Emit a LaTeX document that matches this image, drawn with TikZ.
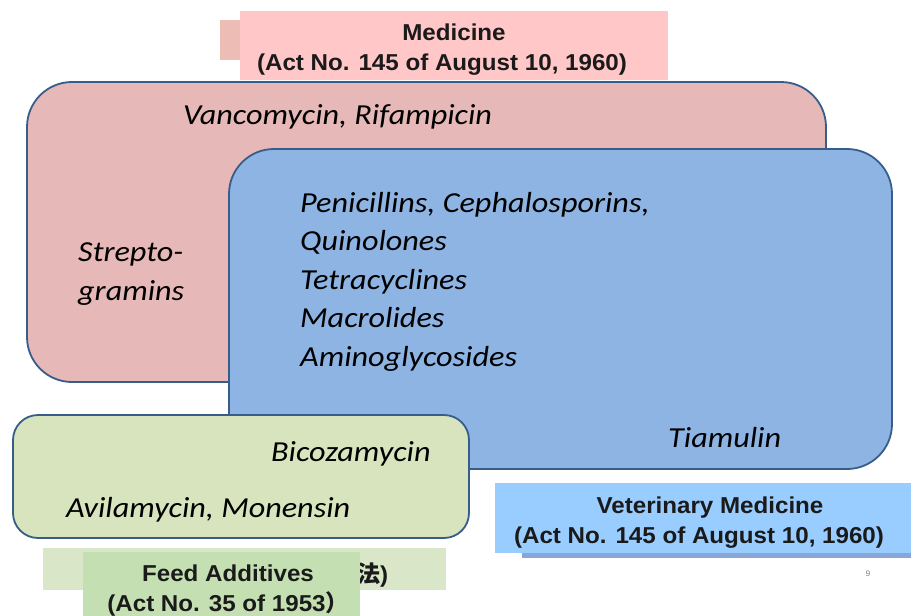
\documentclass[tikz,border=0pt]{standalone}
\usepackage{fontspec}
\setmainfont{Liberation Sans}[FakeStretch=1.05]
\newfontfamily\bodyfont{Carlito}[FakeStretch=1.11]
\newfontfamily\cjkfont{Noto Sans CJK JP}
\usetikzlibrary{shapes,calc}

\definecolor{pinkarea}{HTML}{E6B9B8}
\definecolor{bluearea}{HTML}{8EB4E3}
\definecolor{greenarea}{HTML}{D7E4BD}
\definecolor{edge}{HTML}{385D8A}
\definecolor{medtag}{HTML}{FFC7C7}
\definecolor{medstrip}{HTML}{EDBDB5}
\definecolor{vettag}{HTML}{99CCFF}
\definecolor{vetshadow}{HTML}{8AA6D6}
\definecolor{feedtag}{HTML}{C4DFB2}
\definecolor{feedstrip}{HTML}{D9E7C8}
\definecolor{ink}{HTML}{1A1A1A}

\begin{document}
\begin{tikzpicture}[x=1pt,y=-1pt,
    area/.style={draw=edge,line width=1.8pt,inner sep=0pt},
    tag/.style={inner sep=0pt,align=center,text=ink,font=\fontsize{23}{30}\selectfont\bfseries},
    item/.style={inner sep=0pt,align=left,font=\fontsize{29}{38.5}\selectfont\bodyfont\itshape}]
  \useasboundingbox (0,0) rectangle (911,616);
  % the three areas
  \node[area,fill=pinkarea,rounded corners=45pt,minimum width=799pt,minimum height=300pt] (A1) at (426.5,232) {};
  \node[area,fill=bluearea,rounded corners=45pt,minimum width=663pt,minimum height=320pt] (A2) at (560.5,309) {};
  \node[area,fill=greenarea,rounded corners=25pt,minimum width=456pt,minimum height=123pt] (A3) at (241,476.5) {};
  %%
  \node[item,anchor=base west] (V1) at (183,124) {Vancomycin, Rifampicin};
  \node[item,anchor=north west] (S1) at (78,243) {Strepto-\\gramins};
  \node[item,anchor=north west] (P1) at (300,192) {
    Penicillins, Cephalosporins,\\
    Quinolones\\
    Tetracyclines\\
    Macrolides\\
    Aminoglycosides};
  \node[item,anchor=base west] (T1) at (668,447) {Tiamulin};
  \node[item,anchor=base west] (B1) at (271,461) {Bicozamycin};
  \node[item,anchor=base west] (M1) at (66,517) {Avilamycin, Monensin};
  %% labels
  \node[fill=medstrip,inner sep=0pt,minimum width=60pt,minimum height=40pt] (L0) at (250,40) {};
  \node[tag,fill=medtag,minimum width=428pt,minimum height=69pt] (L1) at (454,45.5) {};
  \node[tag,anchor=north] (L1t) at (442,24) {\hspace*{24pt}Medicine\\(Act No. 145 of August 10, 1960)};
  \node[fill=vetshadow,inner sep=0pt,minimum width=389pt,minimum height=70pt] (L2s) at (716.5,523) {};
  \node[tag,fill=vettag,minimum width=416pt,minimum height=70pt] (L2) at (703,518) {};
  \node[tag,anchor=north] (L2t) at (699,497) {\hspace*{22pt}Veterinary Medicine\\(Act No. 145 of August 10, 1960)};
  \node[fill=feedstrip,inner sep=0pt,minimum width=403pt,minimum height=42pt] (L3s) at (244.5,569) {};
  \node[tag,anchor=base west] (J1) at (357,582) {{\cjkfont 法})};
  \node[tag,fill=feedtag,minimum width=277pt,minimum height=64pt] (L3) at (221.5,584) {};
  \node[tag,anchor=north] (L3t) at (228,565) {Feed Additives\\(Act No. 35 of 1953{\cjkfont ）}};
  \node[text=gray,font=\fontsize{8}{8}\selectfont] (N9) at (868,574) {9};
\end{tikzpicture}
\end{document}
